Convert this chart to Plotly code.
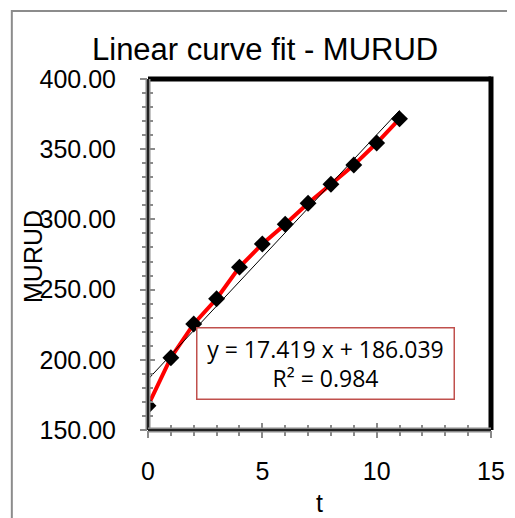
import plotly.graph_objects as go

# data
t = [0, 1, 2, 3, 4, 5, 6, 7, 8, 9, 10, 11]
murud = [167.3, 201.5, 225.5, 243.5, 266.0, 282.5, 296.5, 311.5, 325.0, 338.7, 354.4, 371.6]
trend_t = [0, 11]
trend_y = [186.04, 377.65]
fit_text = "y = 17.419 x + 186.039<br>R² = 0.984"

FONT = "Liberation Sans, Arial, sans-serif"

fig = go.Figure()
fig.add_trace(go.Scatter(x=t, y=murud, mode="lines", line=dict(color="#ff0000", width=4), showlegend=False))
fig.add_trace(go.Scatter(x=trend_t, y=trend_y, mode="lines", line=dict(color="black", width=1), showlegend=False))
fig.add_trace(go.Scatter(x=t, y=murud, mode="markers",
                         marker=dict(symbol="diamond", size=13, color="black"), showlegend=False))
# dummy trace so the overlay axes (inner half of the crossing ticks) get drawn
fig.add_trace(go.Scatter(x=[None], y=[None], xaxis="x2", yaxis="y2", showlegend=False))

tick = dict(tickcolor="#8a8a8a", tickwidth=2)
# the page body has an 8px margin, so the margins are shifted by 8px
fig.update_layout(
    width=515, height=518,
    margin=dict(l=140, r=32, t=71, b=96),
    paper_bgcolor="white", plot_bgcolor="white",
    font=dict(family=FONT, color="black"),
    xaxis=dict(range=[0, 15], dtick=5, showgrid=False, zeroline=False, showline=False,
               ticks="outside", ticklen=7, **tick,
               minor=dict(dtick=1, ticks="outside", ticklen=5, tickcolor="#8a8a8a", tickwidth=2),
               tickfont=dict(size=25), ticklabelstandoff=12),
    yaxis=dict(range=[150, 400], dtick=50, tickformat=".2f", showgrid=False, zeroline=False, showline=False,
               ticks="outside", ticklen=7, **tick,
               minor=dict(dtick=10, ticks="outside", ticklen=5, tickcolor="#8a8a8a", tickwidth=2),
               tickfont=dict(size=25), ticklabelstandoff=19),
    xaxis2=dict(range=[0, 15], dtick=5, overlaying="x", anchor="y", showgrid=False, zeroline=False,
                showticklabels=False, ticks="inside", ticklen=7, **tick,
                minor=dict(dtick=1, ticks="inside", ticklen=5, tickcolor="#8a8a8a", tickwidth=2)),
    yaxis2=dict(range=[150, 400], dtick=50, overlaying="y", anchor="x", side="left", showgrid=False,
                zeroline=False, showticklabels=False, ticks="inside", ticklen=7, **tick,
                minor=dict(dtick=10, ticks="inside", ticklen=5, tickcolor="#8a8a8a", tickwidth=2)),
)

# outer chart frame (extends past the picture on right and bottom)
fig.add_shape(type="rect", xref="paper", yref="paper", x0=-0.397, x1=2, y0=-1, y1=1.194,
              line=dict(color="#8c8c8c", width=2), layer="below")
# plot area border: black top/right, grey+black left/bottom
fig.add_shape(type="line", xref="paper", yref="paper", x0=0, x1=1, y0=1, y1=1,
              line=dict(color="black", width=5))
fig.add_shape(type="line", xref="paper", yref="paper", x0=1, x1=1, y0=0, y1=1.007,
              line=dict(color="black", width=5))
for x0, x1, y0, y1 in [(0, 0, 0, 1), (0, 1, 0, 0)]:
    fig.add_shape(type="line", xref="paper", yref="paper", x0=x0, x1=x1, y0=y0, y1=y1,
                  line=dict(color="#8a8a8a", width=5))
    fig.add_shape(type="line", xref="paper", yref="paper", x0=x0, x1=x1, y0=y0, y1=y1,
                  line=dict(color="#222222", width=2))

fig.add_annotation(text="Linear curve fit - MURUD", xref="paper", yref="paper", x=0.340, y=1.0835,
                   xanchor="center", yanchor="middle", showarrow=False, font=dict(size=31))
fig.add_annotation(text="MURUD", xref="paper", yref="paper", x=-0.3353, y=0.4957, textangle=-90,
                   xanchor="center", yanchor="middle", showarrow=False, font=dict(size=25))
fig.add_annotation(text="t", xref="paper", yref="paper", x=0.501, y=-0.208,
                   xanchor="center", yanchor="middle", showarrow=False, font=dict(size=25))
fig.add_annotation(text=fit_text, xref="paper", yref="paper", x=0.518, y=0.189,
                   xanchor="center", yanchor="middle", showarrow=False, width=252, height=66,
                   bgcolor="white", bordercolor="#c0504d", borderwidth=1.5, borderpad=2,
                   font=dict(size=23, family="Open Sans, sans-serif"))

fig.write_html("out.html")
